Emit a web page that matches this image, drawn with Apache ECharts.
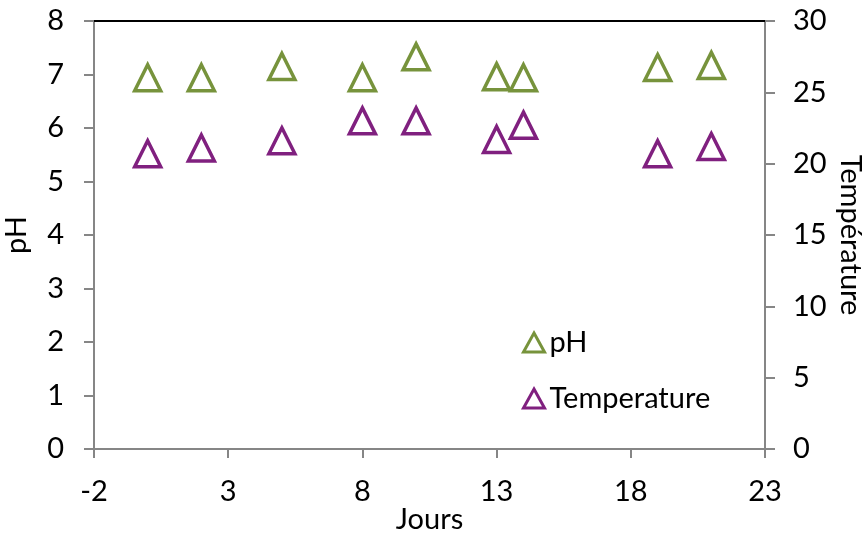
<!DOCTYPE html>
<html>
<head>
<meta charset="utf-8">
<style>
  html, body { margin: 0; padding: 0; background: #fff; }
  #chart { width: 863px; height: 534px; }
</style>
<script src="https://cdn.jsdelivr.net/npm/echarts@6/dist/echarts.min.js"></script>
</head>
<body>
<div id="chart"></div>
<script>
// jours de prélèvement
const days = [0, 2, 5, 8, 10, 13, 14, 19, 21]
// pH (axe gauche)
const phValues = [6.94, 6.94, 7.15, 6.94, 7.33, 6.96, 6.94, 7.13, 7.17]
// température (axe droit)
const tempValues = [20.7, 21.1, 21.6, 23.0, 23.0, 21.7, 22.7, 20.7, 21.2]
// étendue et pas de l'axe des x (graduations -2, 3, 8, 13, 18, 23)
const xMin = -2
const xMax = 23
const xStep = 5

const green = '#77933C'
const purple = '#80207F'
const axisGray = '#868686'
const font = 'Lato, "Open Sans", sans-serif'
const fs = 29

const pairs = (xs, ys) => xs.map((x, i) => [x, ys[i]])

let myChart = echarts.init(document.getElementById('chart'))

let options = {
  animation: false,
  textStyle: { fontFamily: font },
  grid: { left: 94, right: 98, top: 21, bottom: 85, outerBoundsMode: 'none', containLabel: false },
  legend: {
    orient: 'vertical',
    left: 522,
    top: 328,
    padding: 0,
    itemWidth: 21,
    itemHeight: 19,
    itemGap: 27,
    textStyle: { fontSize: fs, color: '#000', fontFamily: font },
    data: [
      { name: 'pH', icon: 'triangle', itemStyle: { color: '#fff', borderColor: green, borderWidth: 3, opacity: 1 } },
      { name: 'Temperature', icon: 'triangle', itemStyle: { color: '#fff', borderColor: purple, borderWidth: 3, opacity: 1 } }
    ]
  },
  xAxis: [
    {
      type: 'value',
      min: xMin,
      max: xMax,
      interval: xStep,
      name: 'Jours',
      nameLocation: 'middle',
      nameGap: 56,
      nameMoveOverlap: false,
      nameTextStyle: { fontSize: fs, color: '#000' },
      axisLine: { show: true, onZero: false, lineStyle: { color: axisGray, width: 2 } },
      axisTick: { show: true, inside: false, interval: 0, length: 9, lineStyle: { color: axisGray, width: 2 } },
      axisLabel: { fontSize: fs, color: '#000', margin: 28 },
      splitLine: { show: false }
    },
    {
      type: 'value',
      position: 'top',
      min: xMin,
      max: xMax,
      axisLine: { show: true, onZero: false, lineStyle: { color: '#000', width: 2 } },
      axisTick: { show: false },
      axisLabel: { show: false },
      splitLine: { show: false }
    }
  ],
  yAxis: [
    {
      type: 'value',
      min: 0,
      max: 8,
      interval: 1,
      name: 'pH',
      nameLocation: 'middle',
      nameGap: 63,
      nameMoveOverlap: false,
      nameTextStyle: { fontSize: fs, color: '#000' },
      axisLine: { show: true, onZero: false, lineStyle: { color: axisGray, width: 2 } },
      axisTick: { show: true, length: 10, lineStyle: { color: axisGray, width: 2 } },
      axisLabel: { fontSize: fs, color: '#000', margin: 30 },
      splitLine: { show: false }
    },
    {
      type: 'value',
      position: 'right',
      min: 0,
      max: 30,
      interval: 5,
      name: 'Température',
      nameLocation: 'middle',
      nameRotate: -90,
      nameGap: 71,
      nameMoveOverlap: false,
      nameTextStyle: { fontSize: fs, color: '#000' },
      axisLine: { show: true, onZero: false, lineStyle: { color: axisGray, width: 2 } },
      axisTick: { show: true, length: 10, lineStyle: { color: axisGray, width: 2 } },
      axisLabel: { fontSize: fs, color: '#000', margin: 28 },
      splitLine: { show: false }
    }
  ],
  series: [
    {
      name: 'pH',
      type: 'scatter',
      yAxisIndex: 0,
      symbol: 'triangle',
      symbolSize: [26, 26],
      itemStyle: { color: '#fff', borderColor: green, borderWidth: 3.5, opacity: 1 },
      data: pairs(days, phValues)
    },
    {
      name: 'Temperature',
      type: 'scatter',
      yAxisIndex: 1,
      symbol: 'triangle',
      symbolSize: [26, 26],
      itemStyle: { color: '#fff', borderColor: purple, borderWidth: 3.5, opacity: 1 },
      data: pairs(days, tempValues)
    }
  ]
}

myChart.setOption(options)
</script>
</body>
</html>
